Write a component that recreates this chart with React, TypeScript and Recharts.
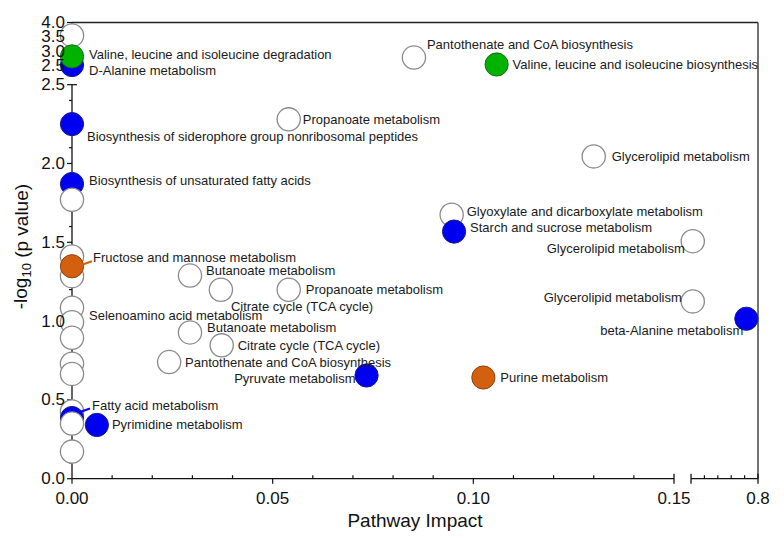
import React from 'react';
import { ScatterChart, Scatter, XAxis, YAxis, ReferenceLine } from 'recharts';

// ---------- data ----------
const pathwayNames = [
  '', 'D-Alanine metabolism', 'Valine, leucine and isoleucine degradation',
  'Biosynthesis of siderophore group nonribosomal peptides', 'Biosynthesis of unsaturated fatty acids', '',
  '', '', 'Fructose and mannose metabolism',
  '', 'Selenoamino acid metabolism', '',
  '', '', '',
  'Fatty acid metabolism', '', '',
  'Pyrimidine metabolism', 'Pantothenate and CoA biosynthesis', 'Valine, leucine and isoleucine biosynthesis',
  'Propanoate metabolism', 'Glycerolipid metabolism', 'Glyoxylate and dicarboxylate metabolism',
  'Starch and sucrose metabolism', 'Glycerolipid metabolism', 'Glycerolipid metabolism',
  'beta-Alanine metabolism', 'Purine metabolism', 'Butanoate metabolism',
  'Citrate cycle (TCA cycle)', 'Propanoate metabolism', 'Butanoate metabolism',
  'Citrate cycle (TCA cycle)', 'Pantothenate and CoA biosynthesis', 'Pyruvate metabolism',
];
const pathwayImpact = [
  0, 0, 0,
  0, 0, 0,
  0, 0, 0,
  0, 0, 0,
  0, 0, 0,
  0, 0, 0,
  0.0062, 0.0852, 0.1058,
  0.054, 0.13, 0.0946,
  0.0952, 0.313, 0.313,
  0.713, 0.1025, 0.0294,
  0.0371, 0.054, 0.0294,
  0.0373, 0.0242, 0.0734,
];
const negLog10P = [
  3.55, 2.52, 2.82,
  2.25, 1.87, 1.77,
  1.41, 1.285, 1.348,
  1.085, 0.993, 0.894,
  0.73, 0.665, 0.427,
  0.385, 0.35, 0.172,
  0.341, 2.78, 2.54,
  2.28, 2.045, 1.675,
  1.568, 1.507, 1.125,
  1.015, 0.642, 1.289,
  1.199, 1.199, 0.928,
  0.846, 0.74, 0.655,
];
const pathwayClass = [
  'none', 'blue', 'green',
  'blue', 'blue', 'none',
  'none', 'none', 'orange',
  'none', 'none', 'none',
  'none', 'none', 'none',
  'blue', 'none', 'none',
  'blue', 'none', 'green',
  'none', 'none', 'none',
  'blue', 'none', 'none',
  'blue', 'orange', 'none',
  'none', 'none', 'none',
  'none', 'none', 'blue',
];

// x tick values (lower segment 0–0.15, upper segment 0.3–0.8)
const xLowerTicks = [0, 0.01, 0.02, 0.03, 0.04, 0.05, 0.06, 0.07, 0.08, 0.09, 0.1, 0.11, 0.12, 0.13, 0.14, 0.15];
const xLowerLabels = ['0.00', '', '', '', '', '0.05', '', '', '', '', '0.10', '', '', '', '', '0.15'];
const xUpperTicks = [0.3, 0.4, 0.5, 0.6, 0.7, 0.8];
const xUpperLabels = ['', '', '', '', '', '0.8'];
// y tick values (lower segment 0–2.5, upper segment 2.5–4.0)
const yLowerTicks = [0, 0.1, 0.2, 0.3, 0.4, 0.5, 0.6, 0.7, 0.8, 0.9, 1.0, 1.1, 1.2, 1.3, 1.4, 1.5, 1.6, 1.7, 1.8, 1.9, 2.0, 2.1, 2.2, 2.3, 2.4, 2.5];
const yLowerLabels = ['0.0', '', '', '', '', '0.5', '', '', '', '', '1.0', '', '', '', '', '1.5', '', '', '', '', '2.0', '', '', '', '', '2.5'];
const yUpperTicks = [2.5, 3.0, 3.5, 4.0];
const yUpperLabels = ['2.5', '3.0', '3.5', '4.0'];

// ---------- label layout (pixel offsets from the point) ----------
const labelDx = [
  0, 17, 17, 15, 17, 0, 0, 0, 21, 0, 17, 0, 0, 0, 0, 20, 0, 0,
  15, 13, 16, 14, 18, 15, 16, -8, -11, -3, 17, 16, 10, 17, 17, 16, 16, -11,
];
const labelDy = [
  0, 5.6, -2, 12, -3, 0, 0, 0, -9, 0, -6.5, 0, 0, 0, 0, -13, 0, 0,
  0, -13, 0, 0, 0, -3, -4, 7, -4, 12, 0, -5, 17, 0, -5, 0, 0, 3,
];
const labelAnchorEnd = [25, 26, 27, 35];
const leaderLines: Record<number, number[]> = { 8: [10, -1.5, 20, -5], 15: [8, -6, 18, -9.5] };

// ---------- chart box ----------
const CHART_W = 776, CHART_H = 530;
const M_TOP = 14.5, M_RIGHT = 26, Y_AXIS_W = 64, X_AXIS_H = 59.3;
const PLOT_W = CHART_W - M_RIGHT - Y_AXIS_W;

// ---------- broken axes ----------
const X_BREAK = 0.15, X_RESUME = 0.3, X_GAP = 0.00424, X_K = 0.03338, X_MAX = 0.8;
const Y_BREAK = 2.5, Y_GAP = 0.121, Y_K = 0.1824, Y_MAX = 4.0;
const toX = (v: number) => (v <= X_BREAK ? v : X_BREAK + X_GAP + (v - X_RESUME) * X_K);
const toXUpper = (v: number) => X_BREAK + X_GAP + (v - X_RESUME) * X_K;
const toY = (v: number) => (v <= Y_BREAK ? v : Y_BREAK + Y_GAP + (v - Y_BREAK) * Y_K);
const toYUpper = (v: number) => Y_BREAK + Y_GAP + (v - Y_BREAK) * Y_K;
const X_TOP = toXUpper(X_MAX);
const Y_TOP = toYUpper(Y_MAX);
const X_PER_PX = X_TOP / PLOT_W;

type TickDef = { pos: number; label: string; kind: 'minor' | 'major' | 'cap' };
const xTickDefs: TickDef[] = [
  ...xLowerTicks.map((v, i) => ({
    pos: v, label: xLowerLabels[i],
    kind: (i === xLowerTicks.length - 1 ? 'cap' : xLowerLabels[i] ? 'major' : 'minor') as TickDef['kind'],
  })),
  ...xUpperTicks.map((v, i) => ({
    pos: toXUpper(v), label: xUpperLabels[i],
    kind: (i === 0 || i === xUpperTicks.length - 1 ? 'cap' : 'minor') as TickDef['kind'],
  })),
];
const yTickDefs: TickDef[] = [
  ...yLowerTicks.map((v, i) => ({
    pos: v, label: yLowerLabels[i],
    kind: (i === yLowerTicks.length - 1 ? 'cap' : yLowerLabels[i] ? 'major' : 'minor') as TickDef['kind'],
  })),
  ...yUpperTicks.map((v, i) => ({
    pos: toYUpper(v), label: yUpperLabels[i],
    kind: (i === 0 ? 'cap' : 'major') as TickDef['kind'],
  })),
];
const findDef = (defs: TickDef[], v: number) => {
  let best = defs[0];
  defs.forEach((d) => { if (Math.abs(d.pos - v) < Math.abs(best.pos - v)) best = d; });
  return best;
};
// y tick marks drawn as reference segments (so the circles cover them)
const yTickSegments = yTickDefs.map((d) => {
  const left = d.kind === 'minor' ? -3 : -5;
  const right = d.kind === 'cap' ? 5 : 0;
  return [{ x: left * X_PER_PX, y: d.pos }, { x: right * X_PER_PX, y: d.pos }];
});

const fillOf: Record<string, string> = { none: '#ffffff', blue: '#0000f0', green: '#00b300', orange: '#d3600e' };
const strokeOf: Record<string, string> = { none: '#8a8a8a', blue: '#1a1a8c', green: '#1f6b1f', orange: '#8c4210' };

const data = pathwayNames.map((name, i) => ({
  idx: i,
  name,
  x: toX(pathwayImpact[i]),
  y: toY(negLog10P[i]),
  cls: pathwayClass[i],
}));

const FONT = '"Liberation Sans", Arial, sans-serif';
const AX = '#111';

const XTick = (props: any) => {
  const { x, y, payload } = props;
  const d = findDef(xTickDefs, payload.value);
  return (
    <g>
      {d.kind === 'minor' && <line x1={x} x2={x} y1={y} y2={y - 3.5} stroke={AX} strokeWidth={1.2} />}
      {d.kind === 'major' && <line x1={x} x2={x} y1={y} y2={y + 5} stroke={AX} strokeWidth={1.2} />}
      {d.kind === 'cap' && <line x1={x} x2={x} y1={y - 5} y2={y + 5} stroke={AX} strokeWidth={1.3} />}
      {d.label && (
        <text x={x} y={y + 20} textAnchor="middle" dominantBaseline="central" fontSize={17} fontFamily={FONT} fill="#111">
          {d.label}
        </text>
      )}
    </g>
  );
};

const YTick = (props: any) => {
  const { x, y, payload } = props;
  const d = findDef(yTickDefs, payload.value);
  if (!d.label) return <g />;
  return (
    <text x={x - 7} y={y} textAnchor="end" dominantBaseline="central" fontSize={17} fontFamily={FONT} fill="#111">
      {d.label}
    </text>
  );
};

const CircleShape = (props: any) => {
  const { cx, cy, payload } = props;
  const c = payload.cls;
  return <circle cx={cx} cy={cy} r={11.6} fill={fillOf[c]} stroke={strokeOf[c]} strokeWidth={c === 'none' ? 1.3 : 1} />;
};

const LabelShape = (props: any) => {
  const { cx, cy, payload } = props;
  const i = payload.idx;
  if (!payload.name) return <g />;
  const end = labelAnchorEnd.includes(i);
  const leader = leaderLines[i];
  return (
    <g>
      {leader && (
        <line x1={cx + leader[0]} y1={cy + leader[1]} x2={cx + leader[2]} y2={cy + leader[3]}
          stroke={fillOf[payload.cls]} strokeWidth={2} />
      )}
      <text x={cx + labelDx[i]} y={cy + labelDy[i]} textAnchor={end ? 'end' : 'start'} dominantBaseline="central"
        fontSize={13} fontFamily={FONT} fill="#1a1a1a">
        {payload.name}
      </text>
    </g>
  );
};

const XTitle = (props: any) => {
  const vb = props.viewBox || { x: 64, y: 470.7, width: 686, height: 59 };
  return (
    <text x={vb.x + vb.width / 2} y={vb.y + 41.5} textAnchor="middle" dominantBaseline="central" fontSize={19} fontFamily={FONT} fill="#111">
      Pathway Impact
    </text>
  );
};

const YTitle = (props: any) => {
  const vb = props.viewBox || { x: 0, y: 14.5, width: 64, height: 456 };
  const cx = vb.x + 13;
  const cy = vb.y + vb.height / 2 - 4;
  return (
    <text x={cx} y={cy} transform={`rotate(-90 ${cx} ${cy})`} textAnchor="middle" dominantBaseline="central" fontSize={19} fontFamily={FONT} fill="#111">
      -log
      <tspan fontSize={13} dy={5}>10</tspan>
      <tspan dy={-5}> (p value)</tspan>
    </text>
  );
};

export default function App() {
  return (
    <div style={{ width: CHART_W, height: CHART_H }}>
      <ScatterChart width={CHART_W} height={CHART_H} margin={{ top: M_TOP, right: M_RIGHT, bottom: 0, left: 0 }}>
        <XAxis
          type="number" dataKey="x" domain={[0, X_TOP]} ticks={xTickDefs.map((d) => d.pos)} interval={0}
          tick={<XTick />} tickLine={false} axisLine={false} tickSize={0} tickMargin={0} height={X_AXIS_H}
          label={<XTitle />}
        />
        <YAxis
          type="number" dataKey="y" domain={[0, Y_TOP]} ticks={yTickDefs.map((d) => d.pos)} interval={0}
          tick={<YTick />} tickLine={false} axisLine={false} tickSize={0} tickMargin={0} width={Y_AXIS_W}
          label={<YTitle />}
        />
        <ReferenceLine segment={[{ x: 0, y: 0 }, { x: X_BREAK, y: 0 }]} stroke={AX} strokeWidth={1.3} />
        <ReferenceLine segment={[{ x: toXUpper(X_RESUME), y: 0 }, { x: X_TOP, y: 0 }]} stroke={AX} strokeWidth={1.3} />
        <ReferenceLine segment={[{ x: 0, y: 0 }, { x: 0, y: Y_BREAK }]} stroke={AX} strokeWidth={1.3} />
        <ReferenceLine segment={[{ x: 0, y: toYUpper(Y_BREAK) }, { x: 0, y: Y_TOP }]} stroke={AX} strokeWidth={1.3} />
        {yTickSegments.map((seg, i) => (
          <ReferenceLine key={`yt${i}`} segment={seg} stroke={AX} strokeWidth={1.2} ifOverflow="visible" />
        ))}
        <ReferenceLine y={Y_TOP} stroke="#222" strokeWidth={1.5} />
        <ReferenceLine x={X_TOP} stroke="#444" strokeWidth={1.5} />
        <Scatter data={data} isAnimationActive={false} shape={<CircleShape />} />
        <Scatter data={data} isAnimationActive={false} shape={<LabelShape />} />
      </ScatterChart>
    </div>
  );
}
